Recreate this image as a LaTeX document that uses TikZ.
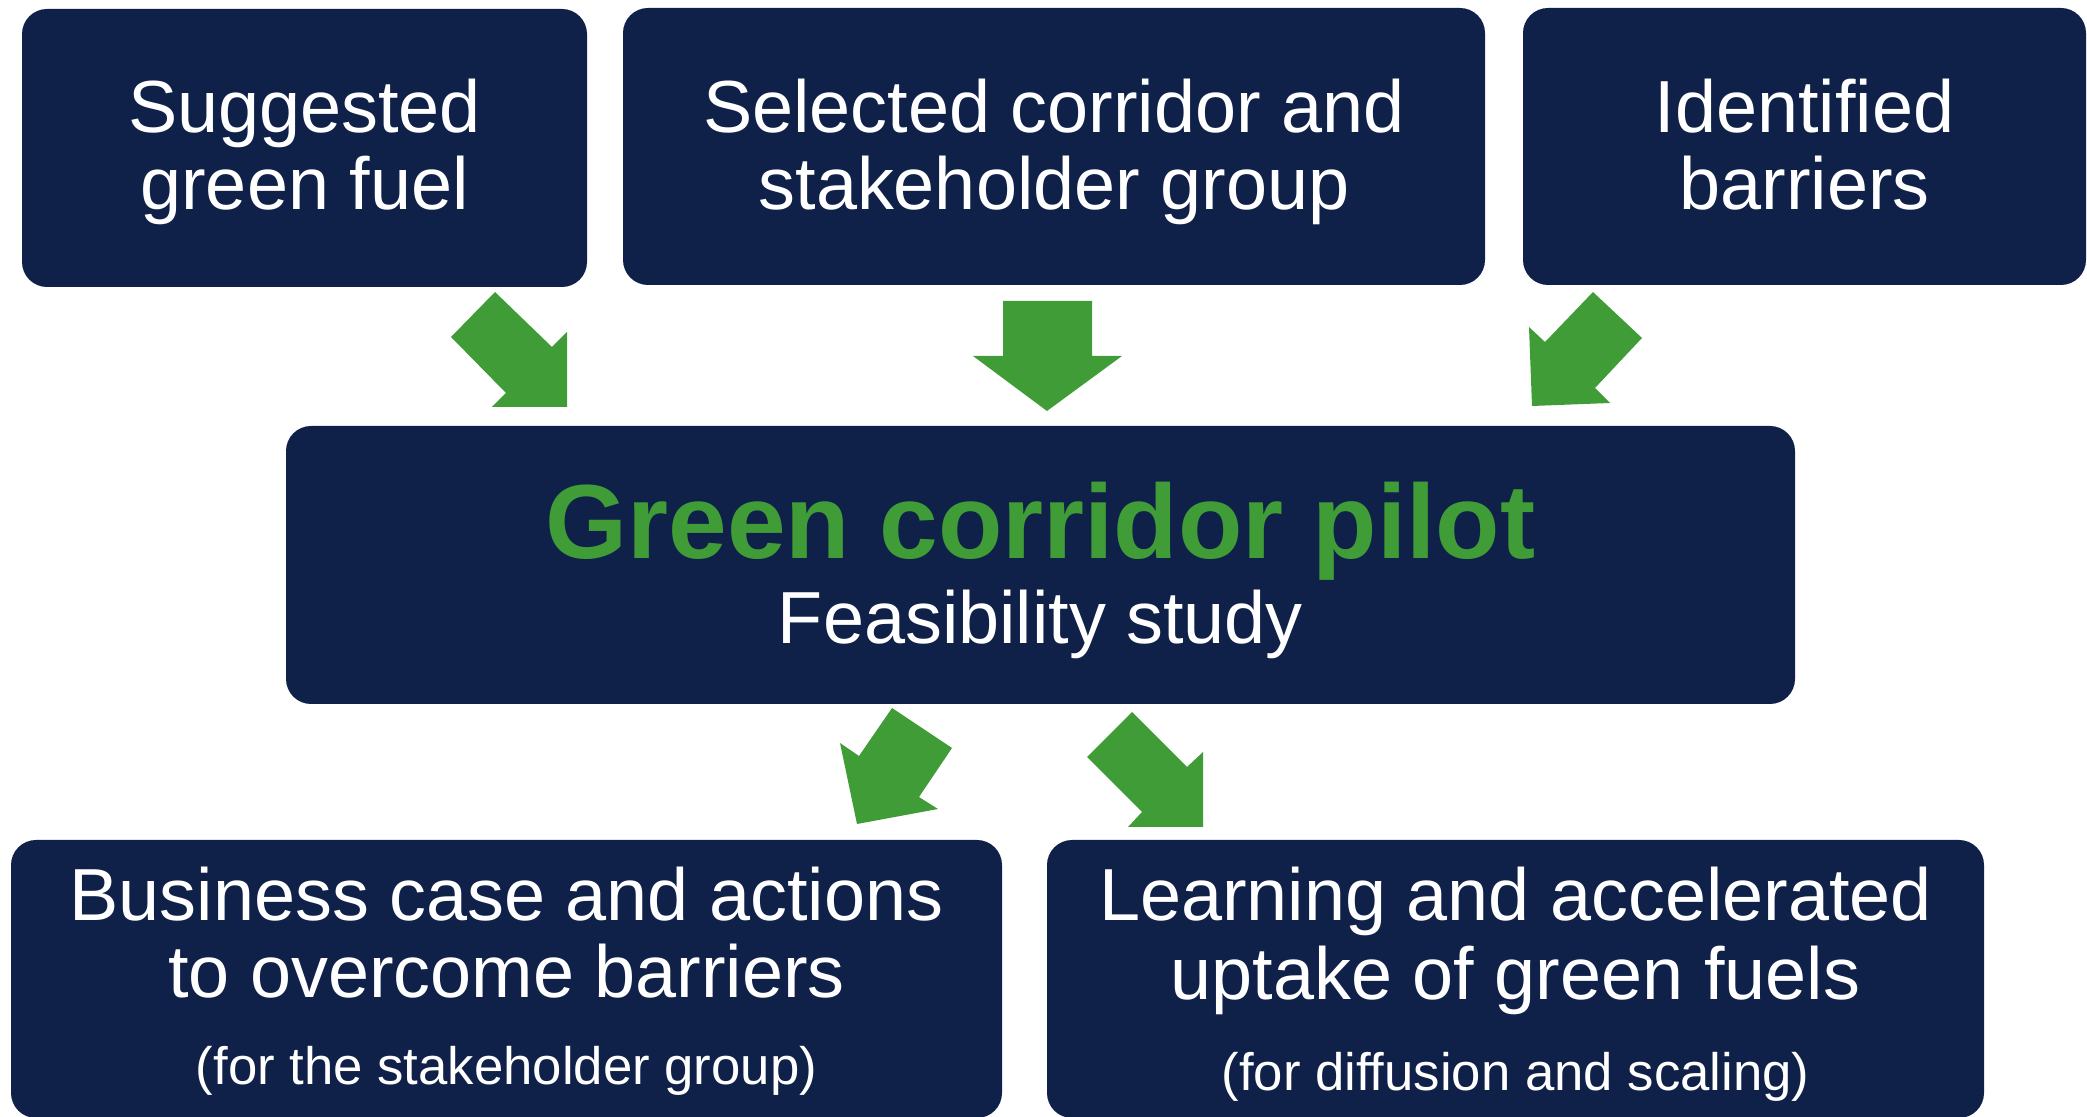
\documentclass[tikz,border=0pt]{standalone}
\usepackage{fontspec}
\setmainfont{Liberation Sans}
\definecolor{navy}{HTML}{0F2049}
\definecolor{leaf}{HTML}{409C37}
\begin{document}
\begin{tikzpicture}[x=0.1mm,y=-0.1mm,
  box/.style={rectangle, fill=navy, rounded corners=2.5mm, inner sep=0pt, outer sep=0pt},
  txt/.style={anchor=base, text=white, font=\fontsize{21}{22}\selectfont, inner sep=0pt},
  small/.style={anchor=base, text=white, font=\fontsize{15}{18}\selectfont, inner sep=0pt},
  title/.style={anchor=base, text=leaf, font=\fontsize{30}{32}\selectfont\bfseries, inner sep=0pt},
  blockarrow/.style={fill=leaf, draw=none}]
\useasboundingbox (0,0) rectangle (2087,1117);

% boxes
\node[box, minimum width=56.5mm, minimum height=27.8mm] (b1) at (304.5,148) {};
\node[box, minimum width=86.2mm, minimum height=27.7mm] (b2) at (1054,146.5) {};
\node[box, minimum width=56.3mm, minimum height=27.7mm] (b3) at (1804.5,146.5) {};
\node[box, minimum width=150.9mm, minimum height=27.8mm] (c) at (1040.5,565) {};
\node[box, minimum width=99.1mm, minimum height=27.8mm] (bl) at (506.5,979) {};
\node[box, minimum width=93.7mm, minimum height=27.8mm] (br) at (1515.5,979) {};

% texts
\node[txt] (t1a) at (304.5,133) {Suggested};
\node[txt] (t1b) at (304.5,210) {green fuel};
\node[txt] (t2a) at (1054,133) {Selected corridor and};
\node[txt] (t2b) at (1054,210) {stakeholder group};
\node[txt] (t3a) at (1804.5,133) {Identified};
\node[txt] (t3b) at (1804.5,210) {barriers};
\node[title] (tc) at (1040.5,559) {Green corridor pilot};
\node[txt] (tcs) at (1040.5,644) {Feasibility study};
\node[txt] (tla) at (506.5,921) {Business case and actions};
\node[txt] (tlb) at (506.5,998) {to overcome barriers};
\node[small] (tlc) at (506.5,1085) {(for the stakeholder group)};
\node[txt] (tra) at (1515.5,921) {Learning and accelerated};
\node[txt] (trb) at (1515.5,1000) {uptake of green fuels};
\node[small] (trc) at (1515.5,1091) {(for diffusion and scaling)};

% block arrows
\fill[blockarrow] (495,292) -- (451,337) -- (506,393) -- (492,407) -- (567,407) -- (567,332) -- (552,347) -- cycle;
\fill[blockarrow] (1003,301) -- (1092,301) -- (1092,356) -- (1122,356) -- (1047,411) -- (973,356) -- (1003,356) -- cycle;
\fill[blockarrow] (1593,292) -- (1642,338) -- (1595,388) -- (1610,403) -- (1532,406) -- (1529,327) -- (1545,342) -- cycle;
\fill[blockarrow] (892,708) -- (952,748) -- (919,797) -- (938,809) -- (857,824) -- (840,743) -- (859,756) -- cycle;
\fill[blockarrow] (1132,712) -- (1087,757) -- (1142,812) -- (1128,827) -- (1203,827) -- (1203,752) -- (1187,767) -- cycle;
\end{tikzpicture}
\end{document}
